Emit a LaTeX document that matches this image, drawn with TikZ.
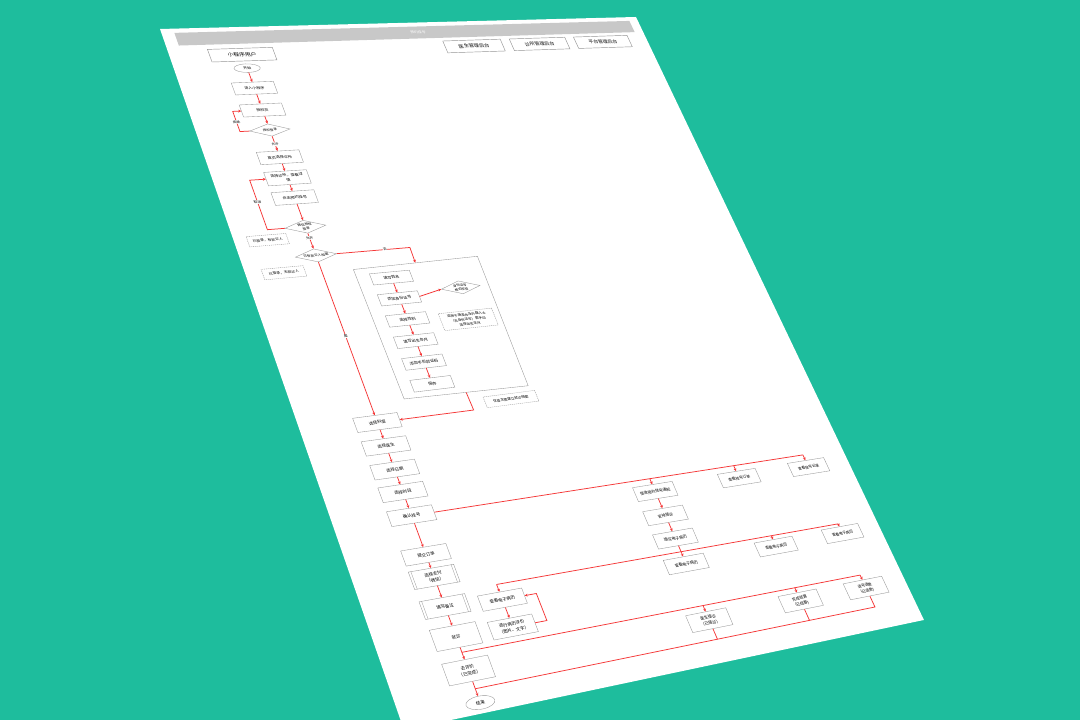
\documentclass[tikz,border=0pt]{standalone}
\usepackage{fontspec}
\setmainfont{Noto Sans CJK SC}
\usetikzlibrary{shapes.geometric,arrows.meta,calc}
\definecolor{bgteal}{RGB}{30,189,157}
\definecolor{frame}{RGB}{150,150,150}
\definecolor{flowred}{RGB}{245,55,55}
\definecolor{barg}{RGB}{200,200,200}
\tikzset{
  % page point (u,v) -> tilted sheet, with local slant for the node
  pg/.code args={#1,#2}{%
    \pgfmathsetmacro\pgS{(#1)/500}%
    \pgfmathsetmacro\pgT{(#2)/700}%
    \pgfmathsetmacro\pgW{0.13359*\pgS-0.15860*\pgT+1}%
    \pgfmathsetmacro\pgX{(560.96*\pgS+179.93*\pgT+160)/\pgW}%
    \pgfmathsetmacro\pgY{(-9.729*\pgS+585.22*\pgT+29)/\pgW}%
    \pgfmathsetmacro\pgA{(560.96-0.13359*\pgX)/\pgW/500}%
    \pgfmathsetmacro\pgB{(9.729+0.13359*\pgY)/\pgW/500}%
    \pgfmathsetmacro\pgC{-(179.93+0.15860*\pgX)/\pgW/700}%
    \pgfmathsetmacro\pgD{(585.22+0.15860*\pgY)/\pgW/700}%
    \pgfmathsetmacro\pgV{720-\pgY}%
    \pgfkeysalso{cm={\pgA,\pgB,\pgC,\pgD,(\pgX pt,\pgV pt)},transform shape}%
  },
  base/.style={draw=frame, line width=0.35pt, fill=white, align=center, inner sep=0.6pt,
    font=\fontsize{3.8}{5.4}\selectfont},
  box/.style={base, minimum width=40pt, minimum height=14pt},
  sbox/.style={base, minimum width=38pt, minimum height=12pt},
  dbox/.style={box, minimum height=16pt},
  tbox/.style={box, minimum height=19pt},
  note/.style={base, dash pattern=on 1.2pt off 0.8pt, minimum width=36pt, minimum height=11pt,
    font=\fontsize{3.4}{5}\selectfont},
  dia/.style={base, diamond, aspect=2.6, inner sep=0pt, minimum width=38pt, minimum height=14pt,
    font=\fontsize{3.3}{4.4}\selectfont},
  term/.style={base, ellipse, inner sep=0pt, minimum width=25pt, minimum height=10pt},
  lane/.style={base, line width=0.45pt, minimum width=62pt, minimum height=15pt,
    font=\fontsize{5.5}{6}\selectfont},
  grp/.style={draw=frame, line width=0.35pt, minimum width=119pt, minimum height=137pt},
  lbl/.style={fill=white, inner sep=0.4pt, font=\fontsize{3.4}{4}\selectfont},
  wire/.style={draw=flowred, line width=0.75pt},
  flow/.style={wire, -{Stealth[length=3pt,width=2.8pt]}},
}
\begin{document}
\begin{tikzpicture}
  \useasboundingbox (0,0) rectangle (1080pt,720pt);
  \fill[bgteal] (0,0) rectangle (1080pt,720pt);
  % sheet
  \coordinate[pg={0,0}] (pTL);
  \coordinate[pg={500,0}] (pTR);
  \coordinate[pg={500,700}] (pBR);
  \coordinate[pg={0,700}] (pBL);
  \fill[white] (pTL) -- (pTR) -- (pBR) -- (pBL) -- cycle;

  % header
  \coordinate[pg={12,5}] (tb1);
  \coordinate[pg={490,5}] (tb2);
  \coordinate[pg={490,20}] (tb3);
  \coordinate[pg={12,20}] (tb4);
  \fill[barg] (tb1) -- (tb2) -- (tb3) -- (tb4) -- cycle;
  \node[text=white, font=\fontsize{4}{5}\selectfont, pg={251,12.5}] (title) {预约挂号};
  \node[lane, pg={68,33}] (laneU) {小程序用户};
  \node[lane, pg={304,31.5}] (laneD) {医生管理后台};
  \node[lane, pg={376,31.5}] (laneC) {诊所管理后台};
  \node[lane, pg={448,31.5}] (laneP) {平台管理后台};

  % user lane, top
  \node[term, pg={68,49}] (start) {开始};
  \node[box, pg={68,72.5}] (enter) {进入小程序};
  \node[box, pg={68,98}] (auth) {授权页};
  \node[dia, pg={68,121}] (login) {授权登录};
  \node[box, pg={68,152}] (clinic) {首页选择诊所};
  \node[box, pg={68,175}, minimum height=15pt] (detail) {选择诊所，查看详\\情};
  \node[box, pg={68,197}] (book) {点击预约挂号};
  \node[dia, pg={68,229}] (wxauth) {微信授权\\登录};
  \node[dia, pg={68,260}] (record) {已有就诊人档案};
  \node[note, pg={30,240}] (noteA) {已登录，有就诊人};
  \node[note, pg={34,275}, minimum width=38pt] (noteB) {已登录，无就诊人};

  % patient form
  \node[grp, pg={156.5,346.5}] (grp) {};
  \node[sbox, pg={129,290}] (g1) {填写姓名};
  \node[sbox, pg={129,312.3}] (g2) {添加身份证号};
  \node[sbox, pg={129,334.6}] (g3) {选择性别};
  \node[sbox, pg={129,356.9}] (g4) {填写出生年月};
  \node[sbox, pg={129,379.2}] (g5) {添加手机验证码};
  \node[sbox, pg={129,401.5}] (g6) {保存};
  \node[dia, pg={190,307}] (idchk) {身份证号\\格式校验};
  \node[note, pg={185,341}, minimum width=52pt, minimum height=18pt] (noteC)
    {适用于港澳台及外籍人士\\（无身份证号）需手动\\选择出生年月};
  \node[note, pg={195,426}, minimum width=50pt] (noteD) {仅首次需建立就诊档案};

  % user lane, booking
  \node[box, pg={68,432}] (dept) {选择科室};
  \node[box, pg={68,455}] (doc) {选择医生};
  \node[box, pg={68,478}] (date) {选择日期};
  \node[box, pg={68,499.5}] (slot) {选择时段};
  \node[box, pg={68,522}] (confirm) {确认挂号};
  \node[box, pg={68,558.6}] (submit) {提交订单};
  \node[dbox, pg={68,579}] (pay) {选择支付\\（微信）};
  \node[dbox, pg={68,606}] (remark) {填写备注};
  \node[tbox, pg={68,633}] (visit) {就诊};
  \node[tbox, pg={68,663}] (rate) {去评价\\（已完成）};
  \node[term, pg={68,691}, minimum height=11pt] (end) {结束};
  \node[box, pg={118,609}] (ehr) {查看电子病历};
  \node[dbox, pg={118,634}] (review) {进行病历评价\\（图片、文字）};

  % back offices
  \node[box, pg={294,535}] (notice) {接收预约挂号通知};
  \node[box, pg={294,559}] (arrange) {安排接诊};
  \node[box, pg={294,582}] (write) {填写电子病历};
  \node[box, pg={381,535}] (orderC) {查看挂号订单};
  \node[box, pg={456,535}] (orderP) {查看挂号记录};
  \node[box, pg={294,607}] (ehrD) {查看电子病历};
  \node[box, pg={387,606}] (ehrC) {查看电子病历};
  \node[box, pg={459,605}] (ehrP) {查看电子病历};
  \node[dbox, pg={293,661}] (seen) {医生接诊\\（已接诊）};
  \node[dbox, pg={387,660}] (settle) {完成结算\\（已结算）};
  \node[dbox, pg={457,660}, minimum width=42pt] (refund) {退号退款\\（已退款）};

  \foreach \n in {pay,remark}{
    \draw[frame, line width=0.3pt] ($(\n.north west)!0.06!(\n.north east)$) -- ($(\n.south west)!0.06!(\n.south east)$);
    \draw[frame, line width=0.3pt] ($(\n.north west)!0.94!(\n.north east)$) -- ($(\n.south west)!0.94!(\n.south east)$);
  }

  % bends
  \coordinate[pg={40,121}] (k1);
  \coordinate[pg={40,98}] (k2);
  \coordinate[pg={33,229}] (k3);
  \coordinate[pg={33,175}] (k4);
  \coordinate[pg={157,260}] (k5);
  \coordinate[pg={157,432}] (k6);
  \coordinate[pg={149,634}] (k7);
  \coordinate[pg={149,609}] (k8);
  \coordinate[pg={294,522}] (b1a);
  \coordinate[pg={381,522}] (b1b);
  \coordinate[pg={456,522}] (b1c);
  \coordinate[pg={294,595}] (j2);
  \coordinate[pg={118,595}] (b2l);
  \coordinate[pg={387,595}] (b2m);
  \coordinate[pg={459,595}] (b2r);
  \coordinate[pg={68,647}] (j3);
  \coordinate[pg={293,647}] (b3a);
  \coordinate[pg={387,647}] (b3b);
  \coordinate[pg={457,647}] (b3r);
  \coordinate[pg={68,679}] (j4);
  \coordinate[pg={293,679}] (b4a);
  \coordinate[pg={387,679}] (b4b);
  \coordinate[pg={457,679}] (b4r);

  % connectors
  \draw[flow] (start) -- (enter);
  \draw[flow] (enter) -- (auth);
  \draw[flow] (auth) -- (login);
  \draw[flow] (login) -- (clinic);
  \draw[flow] (clinic) -- (detail);
  \draw[flow] (detail) -- (book);
  \draw[flow] (book) -- (wxauth);
  \draw[flow] (wxauth) -- (record);
  \draw[flow] (login.west) -- (k1) -- (k2) -- (auth.west);
  \draw[flow] (wxauth.west) -- (k3) -- (k4) -- (detail.west);
  \draw[flow] (record.east) -- (k5) -- (grp.north);
  \draw[flow] (record) -- (dept);
  \draw[flow] (grp.south) -- (k6) -- (dept.east);
  \draw[flow] (g1) -- (g2);
  \draw[flow] (g2) -- (g3);
  \draw[flow] (g3) -- (g4);
  \draw[flow] (g4) -- (g5);
  \draw[flow] (g5) -- (g6);
  \draw[flow] (g2.east) -- (idchk.west);
  \draw[flow] (dept) -- (doc);
  \draw[flow] (doc) -- (date);
  \draw[flow] (date) -- (slot);
  \draw[flow] (slot) -- (confirm);
  \draw[flow] (confirm) -- (submit);
  \draw[flow] (submit) -- (pay);
  \draw[flow] (pay) -- (remark);
  \draw[flow] (remark) -- (visit);
  \draw[flow] (visit) -- (rate);
  \draw[flow] (rate) -- (end);
  \draw[flow] (ehr) -- (review);
  \draw[flow] (review.east) -- (k7) -- (k8) -- (ehr.east);
  \draw[wire] (confirm.east) -- (b1c);
  \draw[flow] (b1c) -- (orderP.north);
  \draw[flow] (b1a) -- (notice.north);
  \draw[flow] (b1b) -- (orderC.north);
  \draw[flow] (notice) -- (arrange);
  \draw[flow] (arrange) -- (write);
  \draw[flow] (write) -- (ehrD);
  \draw[wire] (b2l) -- (b2r);
  \draw[flow] (b2l) -- (ehr.north);
  \draw[flow] (b2m) -- (ehrC.north);
  \draw[flow] (b2r) -- (ehrP.north);
  \draw[wire] (j3) -- (b3r);
  \draw[flow] (b3a) -- (seen.north);
  \draw[flow] (b3b) -- (settle.north);
  \draw[flow] (b3r) -- (refund.north);
  \draw[wire] (seen.south) -- (b4a);
  \draw[wire] (settle.south) -- (b4b);
  \draw[wire] (refund.south) -- (b4r) -- (j4);

  % branch labels
  \node[lbl, pg={40,110}] (tRefuse) {拒绝};
  \node[lbl, pg={68,137}] (tAllow) {允许};
  \node[lbl, pg={33,199}] (tCancel) {取消};
  \node[lbl, pg={68,241}] (tAllow2) {允许};
  \node[lbl, pg={133,260}] (tNo) {否};
  \node[lbl, pg={68,345}] (tYes) {是};
\end{tikzpicture}
\end{document}
